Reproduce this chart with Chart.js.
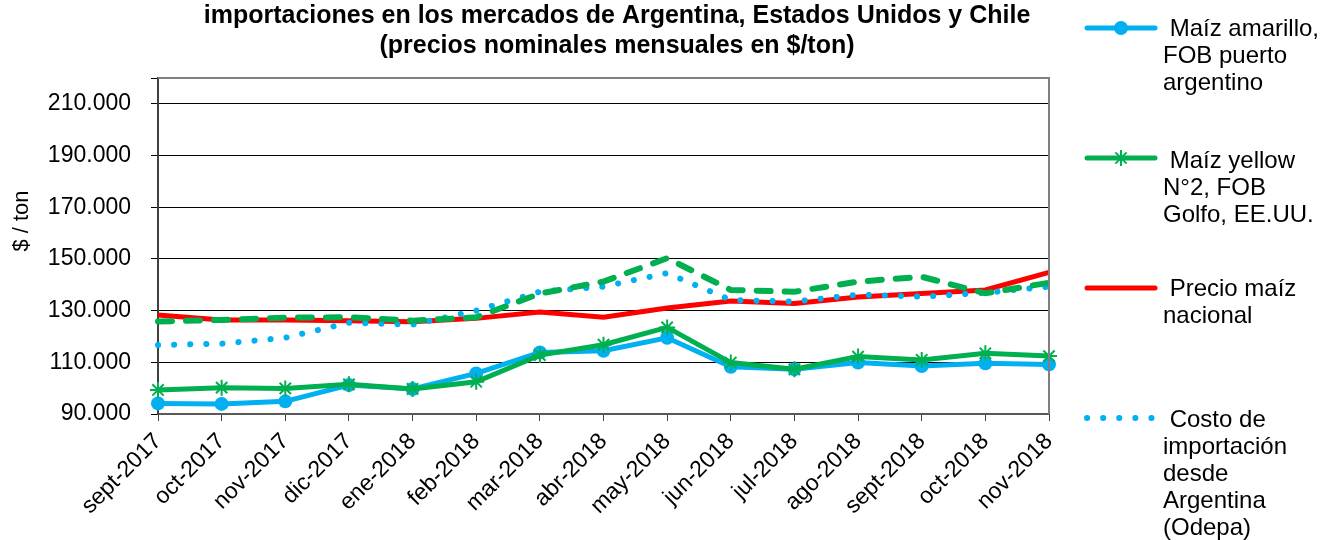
<!DOCTYPE html>
<html>
<head>
<meta charset="utf-8">
<script src="https://cdn.jsdelivr.net/npm/chart.js@4/dist/chart.umd.min.js"></script>
<style>
  html, body { margin: 0; padding: 0; background: #fff; }
  #wrap { width: 1320px; height: 540px; position: relative; }
</style>
</head>
<body>
<div id="wrap"><canvas id="lineChart" width="1320" height="540"></canvas></div>
<script>
const months = ['sept-2017', 'oct-2017', 'nov-2017', 'dic-2017', 'ene-2018', 'feb-2018', 'mar-2018',
  'abr-2018', 'may-2018', 'jun-2018', 'jul-2018', 'ago-2018', 'sept-2018', 'oct-2018', 'nov-2018'];

// $/ton
const fobArgentina = [94100, 93900, 94900, 101200, 99700, 105700, 113800, 114500, 119500, 108300, 107300, 109900, 108600, 109600, 109200];
const fobGolfo = [99300, 100200, 99900, 101500, 99700, 102500, 112800, 116800, 123500, 109900, 107300, 112200, 110900, 113500, 112400];
const precioNacional = [128300, 126400, 126400, 126100, 125700, 127000, 129500, 127400, 131000, 133700, 132800, 135300, 136600, 138000, 144800];
const costoImportacion = [116700, 117200, 119500, 125300, 124600, 130000, 137300, 139300, 144500, 134100, 133500, 136200, 135400, 136900, 139300];
const costoGolfo = [125800, 126400, 127300, 127400, 126100, 127400, 136600, 141200, 150300, 138000, 137300, 141200, 143100, 136700, 140800];

const yTicks = [90000, 110000, 130000, 150000, 170000, 190000, 210000];

const titleLines = ['importaciones en los mercados de Argentina, Estados Unidos y Chile',
  '(precios nominales mensuales en $/ton)'];
const yTitle = '$ / ton';

const legendFobArg = [' Maíz amarillo,', 'FOB puerto', 'argentino'];
const legendFobGolfo = [' Maíz yellow', 'N°2, FOB', 'Golfo, EE.UU.'];
const legendNacional = [' Precio maíz', 'nacional'];
const legendCosto = [' Costo de', 'importación', 'desde', 'Argentina', '(Odepa)'];

const FONT = "'Liberation Sans', Arial, sans-serif";
const BLUE = '#00B0F0', GREEN = '#00B050', RED = '#FF0000';

function fmt(v) {
  return Math.round(v / 1000) + '.000';
}

const extras = {
  id: 'extras',
  afterDraw(chart) {
    const ctx = chart.ctx;
    const a = chart.chartArea;
    ctx.save();

    // plot frame (top and right)
    ctx.strokeStyle = '#7f7f7f';
    ctx.lineWidth = 2;
    ctx.beginPath();
    ctx.moveTo(a.left, a.top);
    ctx.lineTo(a.right, a.top);
    ctx.lineTo(a.right, a.bottom);
    ctx.stroke();

    // title
    ctx.fillStyle = '#000';
    ctx.textAlign = 'center';
    ctx.textBaseline = 'middle';
    ctx.font = 'bold 25px ' + FONT;
    titleLines.forEach((t, i) => ctx.fillText(t, 617, 16 + i * 30));

    // y axis title
    ctx.save();
    ctx.translate(22, 221);
    ctx.rotate(-Math.PI / 2);
    ctx.font = '22px ' + FONT;
    ctx.fillText(yTitle, 0, 0);
    ctx.restore();

    // legend
    ctx.textAlign = 'left';
    ctx.textBaseline = 'alphabetic';
    ctx.font = '24px ' + FONT;
    const entries = [
      { ds: chart.data.datasets[2], lines: legendFobArg, y: 28, base: 36 },
      { ds: chart.data.datasets[1], lines: legendFobGolfo, y: 158, base: 168 },
      { ds: chart.data.datasets[4], lines: legendNacional, y: 288, base: 296 },
      { ds: chart.data.datasets[3], lines: legendCosto, y: 418, base: 427 }
    ];
    entries.forEach(e => {
      const ds = e.ds;
      ctx.save();
      ctx.strokeStyle = ds.borderColor;
      ctx.lineWidth = ds.borderWidth;
      ctx.lineCap = ds.borderCapStyle || 'round';
      ctx.setLineDash(ds.borderDash || []);
      ctx.beginPath();
      ctx.moveTo(1087, e.y);
      ctx.lineTo(1155, e.y);
      ctx.stroke();
      ctx.setLineDash([]);
      if (ds.pointStyle === 'circle' && ds.pointRadius > 0) {
        ctx.fillStyle = ds.pointBackgroundColor;
        ctx.beginPath();
        ctx.arc(1121, e.y, ds.pointRadius, 0, Math.PI * 2);
        ctx.fill();
      } else if (ds.pointStyle === 'star') {
        const r = ds.pointRadius;
        ctx.lineWidth = ds.pointBorderWidth;
        ctx.lineCap = 'butt';
        ctx.strokeStyle = ds.pointBorderColor;
        ctx.beginPath();
        for (let k = 0; k < 4; k++) {
          const ang = k * Math.PI / 4;
          ctx.moveTo(1121 - r * Math.cos(ang), e.y - r * Math.sin(ang));
          ctx.lineTo(1121 + r * Math.cos(ang), e.y + r * Math.sin(ang));
        }
        ctx.stroke();
      }
      ctx.restore();
      ctx.fillStyle = '#000';
      e.lines.forEach((t, i) => ctx.fillText(t, 1163, e.base + i * 27));
    });

    ctx.restore();
  }
};

const ctx = document.getElementById('lineChart').getContext('2d');

const chart = new Chart(ctx, {
  type: 'line',
  data: {
    labels: months,
    datasets: [
      {
        label: 'Costo de importación desde EE.UU.',
        data: costoGolfo,
        borderColor: GREEN,
        borderWidth: 6,
        borderDash: [14, 14],
        borderCapStyle: 'round',
        pointRadius: 0,
        order: 0
      },
      {
        label: legendFobGolfo.join(' ').trim(),
        data: fobGolfo,
        borderColor: GREEN,
        borderWidth: 5,
        pointStyle: 'star',
        pointRadius: 8,
        pointBorderColor: GREEN,
        pointBorderWidth: 2,
        pointBackgroundColor: GREEN,
        order: 1
      },
      {
        label: legendFobArg.join(' ').trim(),
        data: fobArgentina,
        borderColor: BLUE,
        borderWidth: 5,
        pointStyle: 'circle',
        pointRadius: 7,
        pointBorderWidth: 0,
        pointBackgroundColor: BLUE,
        order: 2
      },
      {
        label: legendCosto.join(' ').trim(),
        data: costoImportacion,
        borderColor: BLUE,
        borderWidth: 6,
        borderDash: [0.1, 16],
        borderCapStyle: 'round',
        pointRadius: 0,
        order: 3
      },
      {
        label: legendNacional.join(' ').trim(),
        data: precioNacional,
        borderColor: RED,
        borderWidth: 5,
        pointRadius: 0,
        order: 4
      }
    ]
  },
  options: {
    responsive: false,
    animation: false,
    events: [],
    clip: false,
    layout: { padding: { top: 78, right: 271, left: 0, bottom: 0 } },
    elements: { line: { tension: 0 } },
    plugins: {
      legend: { display: false },
      title: { display: false },
      tooltip: { enabled: false }
    },
    scales: {
      x: {
        offset: false,
        grid: {
          display: true,
          drawOnChartArea: false,
          drawTicks: true,
          tickLength: 7,
          color: '#404040',
          lineWidth: 1
        },
        border: { display: true, color: '#595959', width: 2 },
        ticks: {
          color: '#000',
          font: { family: FONT, size: 23 },
          minRotation: 45,
          maxRotation: 45,
          autoSkip: false,
          padding: 7
        },
        afterFit: scale => { scale.height = 126; }
      },
      y: {
        min: 90000,
        max: 220000,
        afterBuildTicks: scale => {
          scale.ticks = yTicks.concat([220000]).map(v => ({ value: v }));
        },
        grid: {
          color: '#000',
          lineWidth: 1,
          tickLength: 7
        },
        border: { display: true, color: '#404040', width: 2 },
        ticks: {
          color: '#000',
          font: { family: FONT, size: 23 },
          padding: 20,
          callback: v => (yTicks.includes(v) ? fmt(v) : '')
        },
        afterFit: scale => { scale.width = 158; }
      }
    }
  },
  plugins: [extras]
});
</script>
</body>
</html>
